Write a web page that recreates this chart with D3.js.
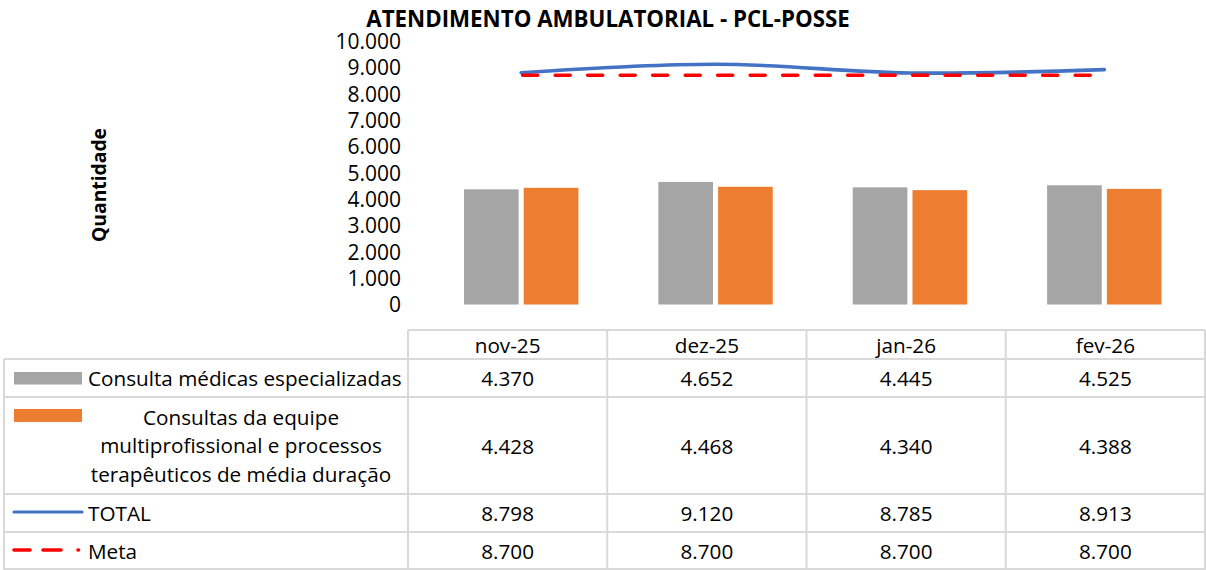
<!DOCTYPE html>
<html><head><meta charset="utf-8">
<script src="https://cdn.jsdelivr.net/npm/d3@7"></script>
<style>html,body{margin:0;padding:0;background:#fff;}svg{display:block;font-family:"Open Sans",sans-serif;}</style>
</head><body>
<svg id="c" width="1206" height="570"></svg>
<script>
const months = ["nov-25","dez-25","jan-26","fev-26"];
const consultaMedicas = [4370,4652,4445,4525];
const consultasEquipe = [4428,4468,4340,4388];
const total = [8798,9120,8785,8913];
const meta = [8700,8700,8700,8700];
const yTicks = [0,1000,2000,3000,4000,5000,6000,7000,8000,9000,10000];
const seriesNames = ["Consulta médicas especializadas","Consultas da equipe multiprofissional e processos terapêuticos de média duração","TOTAL","Meta"];
const legendLines2 = ["Consultas da equipe","multiprofissional e processos","terapêuticos de média duração"];
const colors = {gray:"#A5A5A5", orange:"#ED7D31", blue:"#4472C4", red:"#FF0000", grid:"#D9D9D9"};

const svg = d3.select("#c");
const fmt = v => d3.format(",")(v).replace(/,/g,".");

const x = d3.scaleBand().domain(months).range([424,1201.5]).paddingInner(0).paddingOuter(0);
const y = d3.scaleLinear().domain([0,10000]).range([304.5,41]);
const xs = d3.scaleBand().domain([0,1]).range([-57.2,57.2]).paddingInner(0.085);

// Title
svg.append("text").attr("x",608).attr("y",18.5).attr("text-anchor","middle").attr("dominant-baseline","central")
  .attr("font-weight","bold").attr("font-size",22.3).text("ATENDIMENTO AMBULATORIAL - PCL-POSSE");
// Y title
svg.append("text").attr("transform","translate(98,185) rotate(-90)").attr("text-anchor","middle").attr("dominant-baseline","central")
  .attr("font-weight","bold").attr("font-size",19.3).text("Quantidade");

// Y axis
const yAxis = d3.axisLeft(y).tickValues(yTicks).tickFormat(fmt).tickSize(0).tickPadding(0);
const ga = svg.append("g").attr("transform","translate(401,0)").call(yAxis);
ga.select(".domain").remove();
ga.selectAll("text").attr("font-size",21).attr("font-family","Open Sans").attr("fill","#000").attr("dy","0.35em");

// Bars
const barSeries = [consultaMedicas, consultasEquipe];
const barColors = [colors.gray, colors.orange];
barSeries.forEach((s,si)=>{
  svg.append("g").selectAll("rect").data(s).join("rect")
    .attr("x",(d,i)=>x(months[i])+x.bandwidth()/2+xs(si))
    .attr("width",xs.bandwidth())
    .attr("y",d=>y(d)).attr("height",d=>y(0)-y(d))
    .attr("fill",barColors[si]);
});

// Lines
const line = d3.line().x((d,i)=>x(months[i])+x.bandwidth()/2).y(d=>y(d)).curve(d3.curveCatmullRom.alpha(0.5));
svg.append("path").attr("d",line(total)).attr("fill","none").attr("stroke",colors.blue).attr("stroke-width",3.6).attr("stroke-linecap","round");
const lineStraight = d3.line().x((d,i)=>x(months[i])+x.bandwidth()/2).y(d=>y(d));
svg.append("path").attr("d",lineStraight(meta)).attr("fill","none").attr("stroke",colors.red).attr("stroke-width",3.6)
  .attr("stroke-dasharray","15 17.5").attr("stroke-linecap","round").attr("transform","translate(1.5,0)");

// Table
const tx = d3.scaleBand().domain(months).range([408,1205]);
const tg = svg.append("g");
const gl = (x1,y1,x2,y2)=>tg.append("line").attr("x1",x1).attr("y1",y1).attr("x2",x2).attr("y2",y2).attr("stroke",colors.grid).attr("stroke-width",2);
gl(408,330,1205,330);
[359,397,494,532].forEach(yy=>gl(4,yy,1205,yy));
gl(4,569,1205,569);
gl(4,359,4,570);
months.forEach(m=>gl(tx(m),330,tx(m),570));
gl(1205,330,1205,570);

const ts = 20.7;
months.forEach(m=>{
  tg.append("text").attr("x",tx(m)+tx.bandwidth()/2).attr("y",344.5).attr("text-anchor","middle").attr("dominant-baseline","central").attr("font-size",ts).text(m);
});
const rowCenters = [378,445.5,513,551];
[consultaMedicas,consultasEquipe,total,meta].forEach((s,si)=>{
  s.forEach((v,i)=>{
    tg.append("text").attr("x",tx(months[i])+tx.bandwidth()/2).attr("y",rowCenters[si]).attr("text-anchor","middle").attr("dominant-baseline","central").attr("font-size",ts).text(fmt(v));
  });
});
// Legend keys & labels
tg.append("rect").attr("x",14).attr("y",372).attr("width",68).attr("height",12.5).attr("fill",colors.gray);
tg.append("text").attr("x",88).attr("y",378).attr("dominant-baseline","central").attr("font-size",ts).text(seriesNames[0]);
tg.append("rect").attr("x",14).attr("y",409).attr("width",68).attr("height",13).attr("fill",colors.orange);
legendLines2.forEach((t,i)=>{
  tg.append("text").attr("x",241).attr("y",416.5+i*28.7).attr("text-anchor","middle").attr("dominant-baseline","central").attr("font-size",ts).text(t);
});
tg.append("line").attr("x1",14).attr("x2",82).attr("y1",512).attr("y2",512).attr("stroke",colors.blue).attr("stroke-width",3.2).attr("stroke-linecap","round");
tg.append("text").attr("x",88).attr("y",513).attr("dominant-baseline","central").attr("font-size",ts).text(seriesNames[2]);
tg.append("line").attr("x1",14).attr("x2",81).attr("y1",550).attr("y2",550).attr("stroke",colors.red).attr("stroke-width",3.6).attr("stroke-linecap","round")
  .attr("stroke-dasharray","16 13 18 17 0.5 20");
tg.append("text").attr("x",88).attr("y",551).attr("dominant-baseline","central").attr("font-size",ts).text(seriesNames[3]);
</script>
</body></html>
